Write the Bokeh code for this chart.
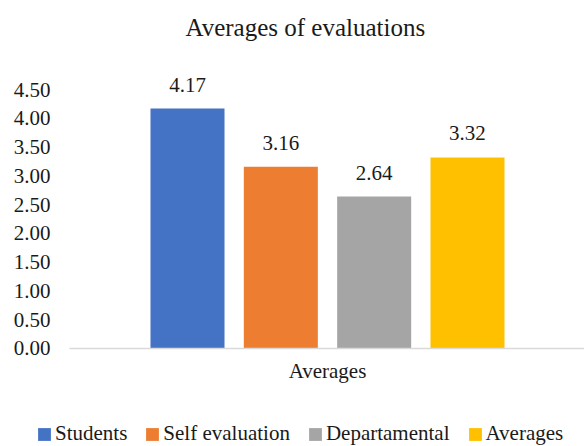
from bokeh.plotting import figure
from bokeh.models import (Range1d, FixedTicker, NumeralTickFormatter, Legend,
                          LegendItem, ColumnDataSource)
from bokeh.embed import file_html
from bokeh.resources import INLINE

# Average evaluation scores per evaluation source
series = ["Students", "Self evaluation", "Departamental", "Averages"]
values = [4.17, 3.16, 2.64, 3.32]
colors = ["#4472C4", "#ED7D31", "#A5A5A5", "#FFC000"]
category = "Averages"
y_ticks = [0.0, 0.5, 1.0, 1.5, 2.0, 2.5, 3.0, 3.5, 4.0, 4.5]

FONT = "Liberation Serif"
TEXT = "#1a1a1a"

positions = list(range(len(series)))
center = (len(series) - 1) / 2

# plot area edges in data units (the frame spans the canvas below the title
# so the legend underneath the axis can be drawn inside it)
x_left_edge = center - 2.764
x_start, x_end = center - 3.5036, center + 2.7536

p = figure(width=584, height=446, output_backend="svg", toolbar_location=None,
           x_range=Range1d(x_start, x_end),
           y_range=Range1d(-1.709, 5.163),
           min_border_left=0, min_border_right=0,
           min_border_top=0, min_border_bottom=0,
           title="Averages of evaluations")

p.title.align = "left"
p.title.offset = 185
p.title.text_font = FONT
p.title.text_font_size = "25px"
p.title.text_font_style = "normal"
p.title.text_color = TEXT
p.title.standoff = 22

p.outline_line_color = None
p.grid.visible = False
p.background_fill_color = "white"
p.border_fill_color = "white"

src = ColumnDataSource(dict(x=positions, top=values,
                            label=[f"{v:.2f}" for v in values]))

renderers = []
for i, name in enumerate(series):
    r = p.vbar(x=[positions[i]], top=[values[i]], width=0.793,
               fill_color=colors[i], line_color=None)
    renderers.append(r)

p.text(x="x", y="top", text="label", source=src,
       text_align="center", text_baseline="alphabetic", y_offset=-24,
       text_font={"value": FONT}, text_font_size={"value": "21px"},
       text_color=TEXT)

# value axis: labels only, no line or ticks
yax = p.yaxis[0]
yax.fixed_location = x_left_edge
yax.ticker = FixedTicker(ticks=y_ticks)
yax.formatter = NumeralTickFormatter(format="0.00")
yax.axis_line_color = None
yax.major_tick_line_color = None
yax.minor_tick_line_color = None
yax.major_tick_out = 0
yax.minor_tick_out = 0
yax.major_label_standoff = 19
yax.major_label_text_font = FONT
yax.major_label_text_font_size = "21px"
yax.major_label_text_color = TEXT

# category axis at zero with its single label
xax = p.xaxis[0]
xax.fixed_location = 0
xax.bounds = (x_left_edge, x_end)
xax.ticker = FixedTicker(ticks=[center])
xax.major_label_overrides = {center: category}
xax.axis_line_color = "#D9D9D9"
xax.axis_line_width = 1.5
xax.major_tick_line_color = None
xax.minor_tick_line_color = None
xax.major_tick_out = 0
xax.minor_tick_out = 0
xax.major_label_standoff = 11
xax.major_label_text_font = FONT
xax.major_label_text_font_size = "21px"
xax.major_label_text_color = TEXT

legend = Legend(items=[LegendItem(label=n, renderers=[r]) for n, r in zip(series, renderers)],
                orientation="horizontal", location=(36, 0),
                glyph_width=16, glyph_height=16, label_standoff=3, spacing=17,
                padding=0, margin=0, border_line_color=None,
                background_fill_alpha=0,
                label_text_font=FONT, label_text_font_size="21px",
                label_text_color=TEXT)
p.add_layout(legend, "center")

open("out.html", "w").write(file_html(p, INLINE))
